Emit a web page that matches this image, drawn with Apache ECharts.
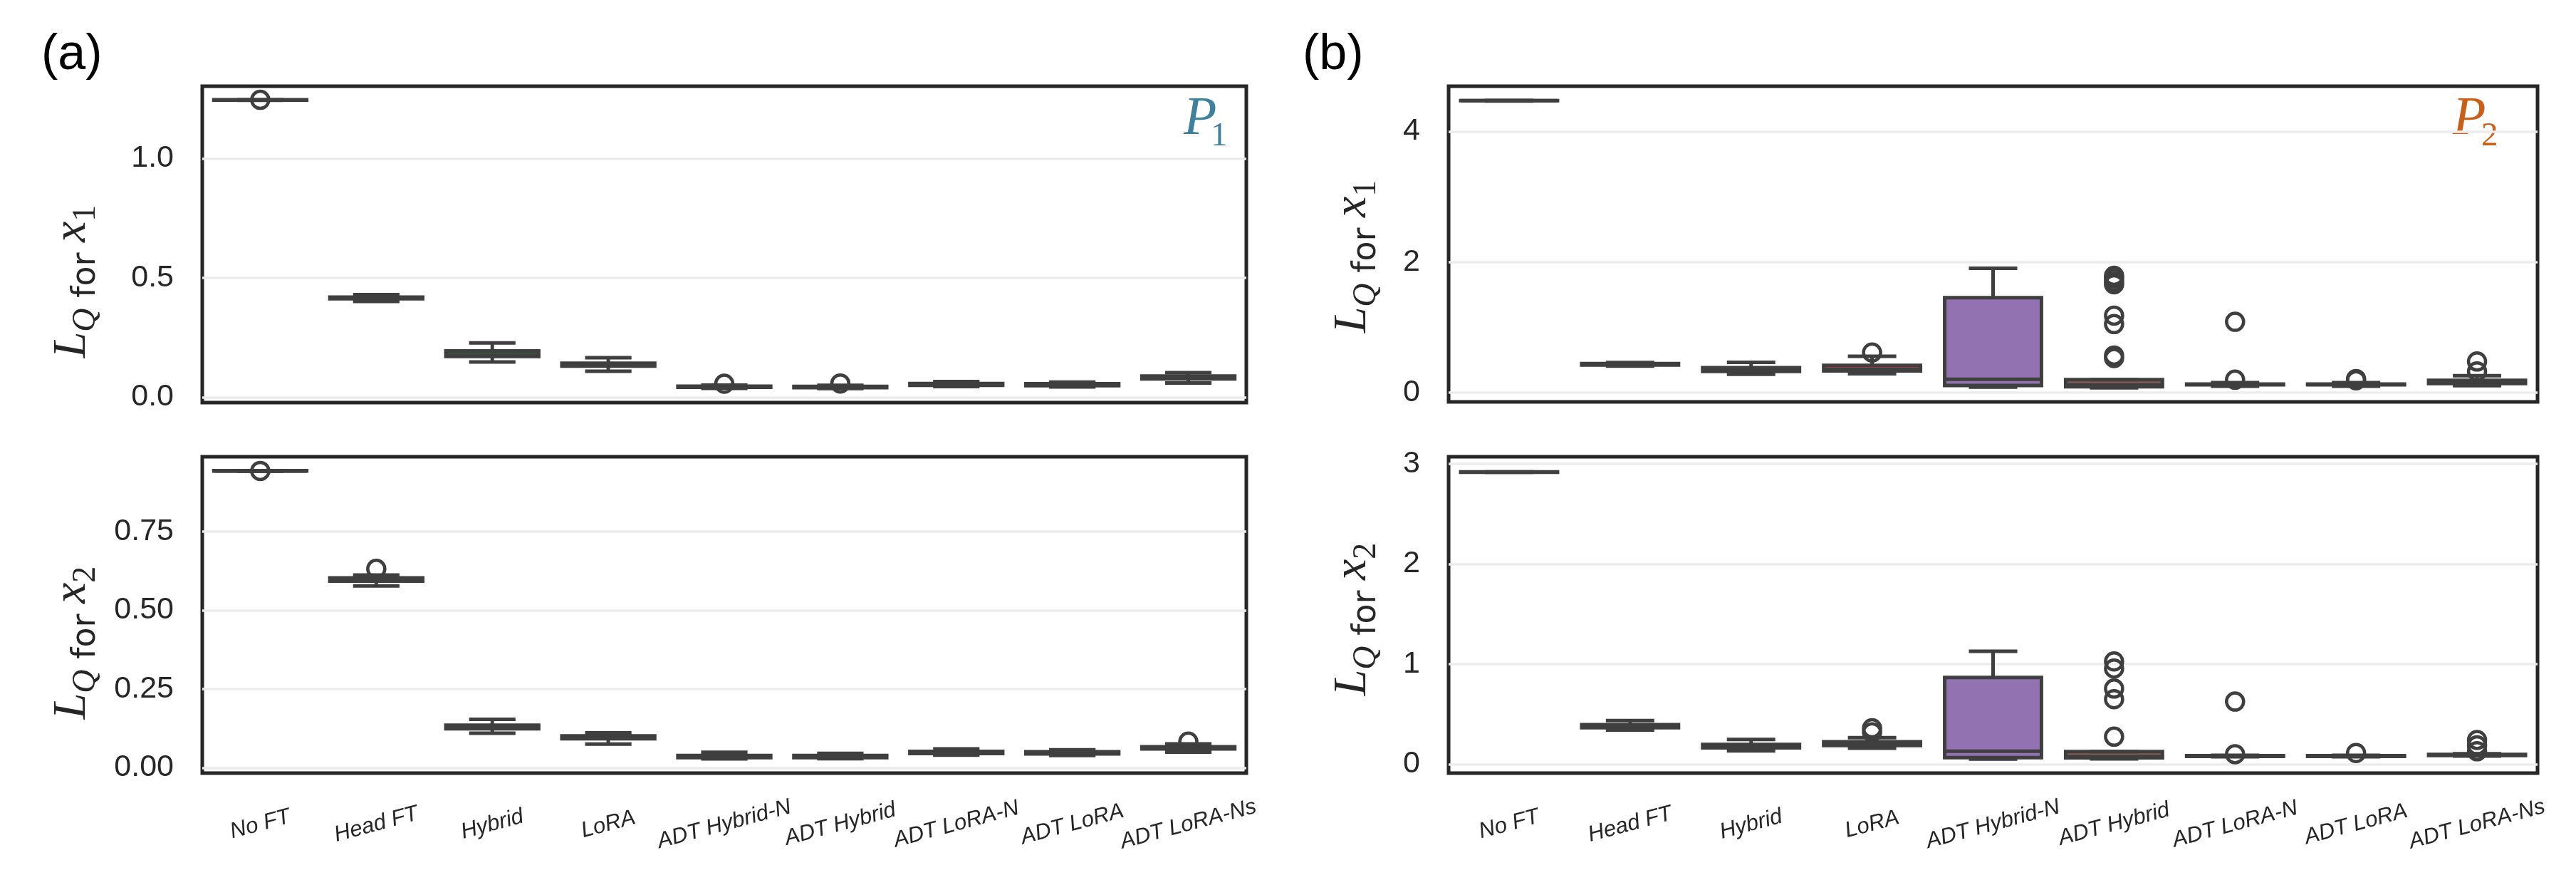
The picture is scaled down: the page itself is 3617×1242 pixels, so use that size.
<!DOCTYPE html>
<html>
<head>
<meta charset="utf-8">
<script src="https://cdn.jsdelivr.net/npm/echarts@6/dist/echarts.min.js"></script>
<style>
  html, body { margin: 0; padding: 0; background: #fff; }
  #chart { width: 3617px; height: 1242px; }
</style>
</head>
<body>
<div id="chart"></div>
<script>
// categories on every x axis
const categories = ['No FT', 'Head FT', 'Hybrid', 'LoRA', 'ADT Hybrid-N', 'ADT Hybrid', 'ADT LoRA-N', 'ADT LoRA', 'ADT LoRA-Ns']
// seaborn tab10 at saturation 0.75
const boxColors = ['#3274a1', '#e1812c', '#3a923a', '#c03d3e', '#9372b2', '#845b53', '#d684bd', '#7f7f7f', '#a9aa35']

// box stats: [min, Q1, median, Q3, max]
const p1x1Boxes = [
  [1.244, 1.245, 1.245, 1.246, 1.246],
  [0.402, 0.413, 0.417, 0.420, 0.430],
  [0.148, 0.171, 0.178, 0.194, 0.228],
  [0.109, 0.131, 0.137, 0.143, 0.166],
  [0.038, 0.042, 0.044, 0.047, 0.051],
  [0.037, 0.041, 0.043, 0.046, 0.050],
  [0.045, 0.050, 0.054, 0.058, 0.066],
  [0.044, 0.049, 0.053, 0.057, 0.064],
  [0.060, 0.077, 0.082, 0.089, 0.103]
]
const p1x1Fliers = [[1.246], [], [], [], [0.057], [0.058], [], [], []]

const p1x2Boxes = [
  [0.942, 0.943, 0.943, 0.944, 0.944],
  [0.578, 0.593, 0.598, 0.603, 0.612],
  [0.110, 0.124, 0.129, 0.135, 0.154],
  [0.075, 0.092, 0.096, 0.101, 0.111],
  [0.028, 0.032, 0.035, 0.039, 0.049],
  [0.029, 0.032, 0.035, 0.039, 0.046],
  [0.040, 0.045, 0.048, 0.052, 0.060],
  [0.039, 0.044, 0.047, 0.051, 0.057],
  [0.050, 0.060, 0.064, 0.067, 0.076]
]
const p1x2Fliers = [[0.943], [0.632], [], [], [], [], [], [], [0.083]]

const p2x1Boxes = [
  [4.465, 4.468, 4.469, 4.470, 4.472],
  [0.407, 0.425, 0.435, 0.445, 0.462],
  [0.283, 0.327, 0.345, 0.382, 0.464],
  [0.290, 0.335, 0.355, 0.418, 0.558],
  [0.085, 0.110, 0.205, 1.455, 1.905],
  [0.076, 0.093, 0.120, 0.202, 0.202],
  [0.100, 0.122, 0.127, 0.132, 0.155],
  [0.100, 0.122, 0.127, 0.132, 0.155],
  [0.109, 0.142, 0.165, 0.191, 0.260]
]
const p2x1Fliers = [[], [], [], [0.615], [], [1.79, 1.75, 1.70, 1.66, 1.18, 1.05, 0.57, 0.53], [1.086, 0.20], [0.21, 0.19], [0.478, 0.326]]

const p2x2Boxes = [
  [2.915, 2.916, 2.917, 2.918, 2.919],
  [0.343, 0.365, 0.380, 0.395, 0.437],
  [0.135, 0.164, 0.180, 0.199, 0.248],
  [0.161, 0.187, 0.205, 0.225, 0.266],
  [0.052, 0.066, 0.130, 0.867, 1.129],
  [0.054, 0.065, 0.078, 0.128, 0.128],
  [0.075, 0.080, 0.083, 0.086, 0.090],
  [0.075, 0.080, 0.083, 0.086, 0.090],
  [0.082, 0.088, 0.093, 0.098, 0.105]
]
const p2x2Fliers = [[], [], [], [0.36, 0.32], [], [1.027, 0.956, 0.756, 0.650, 0.276], [0.626, 0.101], [0.113], [0.243, 0.189, 0.13]]

// y tick labels
const p1x1Ticks = [0, 0.5, 1.0]
const p1x2Ticks = [0, 0.25, 0.5, 0.75]
const p2x1Ticks = [0, 2, 4]
const p2x2Ticks = [0, 1, 2, 3]

const LINE = '#3f3f3f'
const LW = 5
const TEXT = '#262626'

// one entry per subplot
const panels = [
  { boxes: p1x1Boxes, fliers: p1x1Fliers, ticks: p1x1Ticks, dec: 1, sub: '1', min: -0.022, max: 1.303,
    grid: { left: 284, top: 121, width: 1466, height: 444 }, namePos: [102, 395], bottom: false },
  { boxes: p1x2Boxes, fliers: p1x2Fliers, ticks: p1x2Ticks, dec: 2, sub: '2', min: -0.017, max: 0.988,
    grid: { left: 284, top: 641, width: 1466, height: 444 }, namePos: [102, 902], bottom: true },
  { boxes: p2x1Boxes, fliers: p2x1Fliers, ticks: p2x1Ticks, dec: 0, sub: '1', min: -0.14, max: 4.69,
    grid: { left: 2034, top: 121, width: 1529, height: 443 }, namePos: [1900, 360], bottom: false },
  { boxes: p2x2Boxes, fliers: p2x2Fliers, ticks: p2x2Ticks, dec: 0, sub: '2', min: -0.088, max: 3.07,
    grid: { left: 2034, top: 641, width: 1529, height: 444 }, namePos: [1900, 869], bottom: true }
]

// L_Q for x_i  (math parts in italic serif)
const richName = {
  i: { fontFamily: 'Liberation Serif', fontStyle: 'italic', fontSize: 66, lineHeight: 84, verticalAlign: 'middle', fill: TEXT },
  t: { fontFamily: 'DejaVu Sans', fontSize: 46, lineHeight: 71, verticalAlign: 'bottom', fill: TEXT },
  s: { fontFamily: 'Liberation Serif', fontStyle: 'italic', fontSize: 46, lineHeight: 44, verticalAlign: 'bottom', fill: TEXT },
  n: { fontFamily: 'Liberation Serif', fontSize: 46, lineHeight: 44, verticalAlign: 'bottom', fill: TEXT }
}

function lineStyle() {
  return { stroke: LINE, lineWidth: LW }
}

// seaborn-like box: half-width caps, thick dark edges
function renderBox(params, api) {
  const idx = api.value(0)
  const yMin = api.coord([idx, api.value(1)])[1]
  const yQ1 = api.coord([idx, api.value(2)])[1]
  const pMed = api.coord([idx, api.value(3)])
  const yQ3 = api.coord([idx, api.value(4)])[1]
  const yMax = api.coord([idx, api.value(5)])[1]
  const w = api.size([1, 0])[0] * 0.8
  const cw = w / 2
  const x = pMed[0]
  return {
    type: 'group',
    children: [
      { type: 'rect', shape: { x: x - w / 2, y: yQ3, width: w, height: yQ1 - yQ3 },
        style: { fill: boxColors[idx], stroke: LINE, lineWidth: LW } },
      { type: 'line', shape: { x1: x, y1: yQ1, x2: x, y2: yMin }, style: lineStyle() },
      { type: 'line', shape: { x1: x, y1: yQ3, x2: x, y2: yMax }, style: lineStyle() },
      { type: 'line', shape: { x1: x - cw / 2, y1: yMin, x2: x + cw / 2, y2: yMin }, style: lineStyle() },
      { type: 'line', shape: { x1: x - cw / 2, y1: yMax, x2: x + cw / 2, y2: yMax }, style: lineStyle() },
      { type: 'line', shape: { x1: x - w / 2, y1: pMed[1], x2: x + w / 2, y2: pMed[1] }, style: lineStyle() }
    ]
  }
}

const chart = echarts.init(document.getElementById('chart'), null, { renderer: 'canvas' })

const grids = [], xAxes = [], yAxes = [], series = []
const graphics = [
  { type: 'text', x: 58, y: 78, style: { text: '(a)', fontSize: 70, fontFamily: 'Liberation Sans', fill: '#000', verticalAlign: 'middle' } },
  { type: 'text', x: 1829, y: 78, style: { text: '(b)', fontSize: 70, fontFamily: 'Liberation Sans', fill: '#000', verticalAlign: 'middle' } },
  { type: 'text', x: 1662, y: 168, style: { text: 'P', fontSize: 76, fontStyle: 'italic', fontFamily: 'Liberation Serif', fill: '#3f809c', verticalAlign: 'middle' } },
  { type: 'text', x: 1700, y: 192, style: { text: '1', fontSize: 47, fontFamily: 'Liberation Serif', fill: '#3f809c', verticalAlign: 'middle' } },
  { type: 'text', x: 3444, y: 168, style: { text: 'P', fontSize: 76, fontStyle: 'italic', fontFamily: 'Liberation Serif', fill: '#c8601a', verticalAlign: 'middle' } },
  { type: 'text', x: 3484, y: 192, style: { text: '2', fontSize: 47, fontFamily: 'Liberation Serif', fill: '#c8601a', verticalAlign: 'middle' } }
]

panels.forEach((p, g) => {
  grids.push(Object.assign({ show: true, borderColor: TEXT, borderWidth: LW, backgroundColor: '#fff' }, p.grid))
  xAxes.push({
    gridIndex: g,
    type: 'category',
    data: categories,
    boundaryGap: true,
    axisLine: { show: false },
    axisTick: { show: false },
    splitLine: { show: false },
    axisLabel: p.bottom ? {
      show: true, interval: 0, rotate: 15, align: 'center', verticalAlign: 'middle', margin: 72,
      fontSize: 31, fontStyle: 'italic', fontFamily: 'Liberation Sans', color: TEXT
    } : { show: false }
  })
  yAxes.push({
    gridIndex: g,
    type: 'value',
    min: p.min,
    max: p.max,
    axisLine: { show: false },
    axisTick: { show: false, customValues: p.ticks },
    splitLine: { show: true, lineStyle: { color: '#ececec', width: 3.5 } },
    axisLabel: {
      customValues: p.ticks,
      formatter: v => v.toFixed(p.dec),
      fontSize: 43, fontFamily: 'Liberation Sans', color: TEXT, margin: 40
    }
  })
  series.push({
    type: 'custom',
    xAxisIndex: g,
    yAxisIndex: g,
    renderItem: renderBox,
    encode: { x: 0, y: [1, 2, 3, 4, 5] },
    data: p.boxes.map((b, i) => [i].concat(b)),
    z: 2
  })
  const pts = []
  p.fliers.forEach((list, i) => list.forEach(v => pts.push([i, v])))
  series.push({
    type: 'scatter',
    xAxisIndex: g,
    yAxisIndex: g,
    symbol: 'circle',
    symbolSize: 24,
    itemStyle: { color: 'rgba(0,0,0,0)', borderColor: LINE, borderWidth: 4.5, opacity: 1 },
    data: pts,
    z: 3
  })
  graphics.push({
    type: 'text', x: p.namePos[0], y: p.namePos[1], rotation: Math.PI / 2,
    style: { text: '{i|L}{s|Q}{t| for }{i|x}{n|' + p.sub + '}', rich: richName, align: 'center', verticalAlign: 'middle' }
  })
})

chart.setOption({
  animation: false,
  backgroundColor: '#fff',
  grid: grids,
  xAxis: xAxes,
  yAxis: yAxes,
  series: series,
  graphic: graphics
})
</script>
</body>
</html>
